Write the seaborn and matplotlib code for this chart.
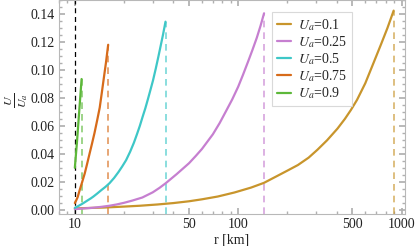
import numpy as np
import pandas as pd
import matplotlib
matplotlib.use('Agg')
import matplotlib.pyplot as plt
import matplotlib.ticker as mticker
import seaborn as sns

# curves: r [km] and U/U_a for each U_a
r_01 = [10, 15, 20, 25, 32, 40, 50, 60, 75, 95, 120, 144, 174, 200, 232, 270, 306, 350,
        405, 450, 490, 534, 600, 671, 750, 820, 895]
u_01 = [0.001, 0.0016, 0.0023, 0.0029, 0.0038, 0.0048, 0.0061, 0.0075, 0.0095, 0.0124,
        0.0159, 0.0193, 0.0243, 0.028, 0.032, 0.0373, 0.043, 0.0497, 0.058, 0.065, 0.0714,
        0.0786, 0.0905, 0.1045, 0.1185, 0.130, 0.1424]

r_025 = [10, 11.5, 13, 14.5, 16.3, 18, 20, 22.5, 25.9, 30, 33, 36, 42, 50, 55, 60, 70, 77,
         85, 92, 100, 107, 115, 122, 130, 137, 144]
u_025 = [0.0005, 0.001, 0.0015, 0.0021, 0.0029, 0.0038, 0.005, 0.0066, 0.0088, 0.0125,
         0.0157, 0.019, 0.0255, 0.0333, 0.0385, 0.0435, 0.054, 0.062, 0.0714, 0.079, 0.088,
         0.0965, 0.106, 0.114, 0.123, 0.1315, 0.1405]

r_05 = [10, 10.5, 11, 11.5, 12, 12.5, 13, 13.7, 14.5, 15.4, 16.3, 17.4, 18.5, 19.5, 20.6,
        21.8, 23, 24, 25, 26, 27, 28, 29, 30.1, 31.3, 32.4, 33.5, 34.7, 35.9]
u_05 = [0.0014, 0.0027, 0.004, 0.0054, 0.0068, 0.0081, 0.0095, 0.0116, 0.014, 0.0164,
        0.019, 0.0228, 0.027, 0.031, 0.0355, 0.0415, 0.048, 0.054, 0.060, 0.0665, 0.0725,
        0.079, 0.0855, 0.0925, 0.101, 0.109, 0.117, 0.1255, 0.1345]

r_075 = [10, 10.2, 10.4, 10.72, 11.1, 11.5, 11.9, 12.3, 12.75, 13.2, 13.7, 14.2, 14.6,
         15.0, 15.5, 16.0]
u_075 = [0.0048, 0.0068, 0.009, 0.0143, 0.020, 0.026, 0.033, 0.040, 0.0475, 0.055, 0.064,
         0.073, 0.083, 0.093, 0.105, 0.118]

r_09 = [10, 10.3, 10.6, 11.0]
u_09 = [0.030, 0.048, 0.068, 0.0935]

labels = ['0.1', '0.25', '0.5', '0.75', '0.9']
colors = ['#C8952C', '#C67FD0', '#3EC7C7', '#D76B1A', '#5DB83A']
r_start = 10

sns.set_theme(style='ticks')
plt.rcParams['font.family'] = ['Liberation Serif', 'DejaVu Serif']
plt.rcParams['mathtext.fontset'] = 'stix'

fig = plt.figure(figsize=(4.2, 2.46), dpi=100)
ax = fig.add_axes([59/420, 32/246, 346/420, 214/246])

ymin = -0.003
curves = [(r_01, u_01), (r_025, u_025), (r_05, u_05), (r_075, u_075), (r_09, u_09)]
ax.axvline(r_start, color='black', ls=(0, (4, 3)), lw=0.9, zorder=1)
for (rr, uu), lab, col in zip(curves, labels, colors):
    df = pd.DataFrame({'r': rr, 'U': uu})
    sns.lineplot(data=df, x='r', y='U', ax=ax, color=col, lw=1.6,
                 label=r'$U_a$=' + lab, zorder=3)
    ax.plot([rr[-1], rr[-1]], [ymin, uu[-1]], color=col, alpha=0.7,
            ls=(0, (4, 3)), lw=1.2, zorder=2)

ax.set_xscale('log')
ax.set_xlim(8.0, 1050)
ax.set_ylim(ymin, 0.15)
ax.xaxis.set_major_locator(mticker.FixedLocator([10, 50, 100, 500, 1000]))
ax.xaxis.set_major_formatter(mticker.FixedFormatter(['10', '50', '100', '500', '1000']))
ax.xaxis.set_minor_locator(mticker.LogLocator(base=10, subs=np.arange(2, 10)))
ax.xaxis.set_minor_formatter(mticker.NullFormatter())
ax.yaxis.set_major_locator(mticker.FixedLocator(np.arange(0, 0.141, 0.02)))
ax.yaxis.set_major_formatter(mticker.FuncFormatter(lambda v, p: f'{v:.2f}'))
ax.yaxis.set_minor_locator(mticker.MultipleLocator(0.005))

ax.tick_params(which='both', direction='in', top=True, right=True,
               color='#b0b0b0', labelsize=10, labelcolor='#222222', pad=3)
ax.tick_params(which='major', length=4)
ax.tick_params(which='minor', length=2)
for s in ax.spines.values():
    s.set_color('#b8b8b8')
    s.set_linewidth(0.8)

ax.set_xlabel('r [km]', fontsize=10, color='#222222', labelpad=2)
ax.set_ylabel(r'$\frac{U}{U_a}$', fontsize=12.5, color='#222222')
ax.yaxis.set_label_coords(-0.085, 0.53)

leg = ax.legend(loc='upper right', bbox_to_anchor=(0.867, 0.977), fontsize=10,
                handlelength=1.0, handletextpad=0.5, labelspacing=0.1,
                borderpad=0.35, frameon=True, fancybox=False)
leg.get_frame().set_edgecolor('#d0d0d0')
leg.get_frame().set_linewidth(0.8)

fig.savefig('out.png', dpi=100)
